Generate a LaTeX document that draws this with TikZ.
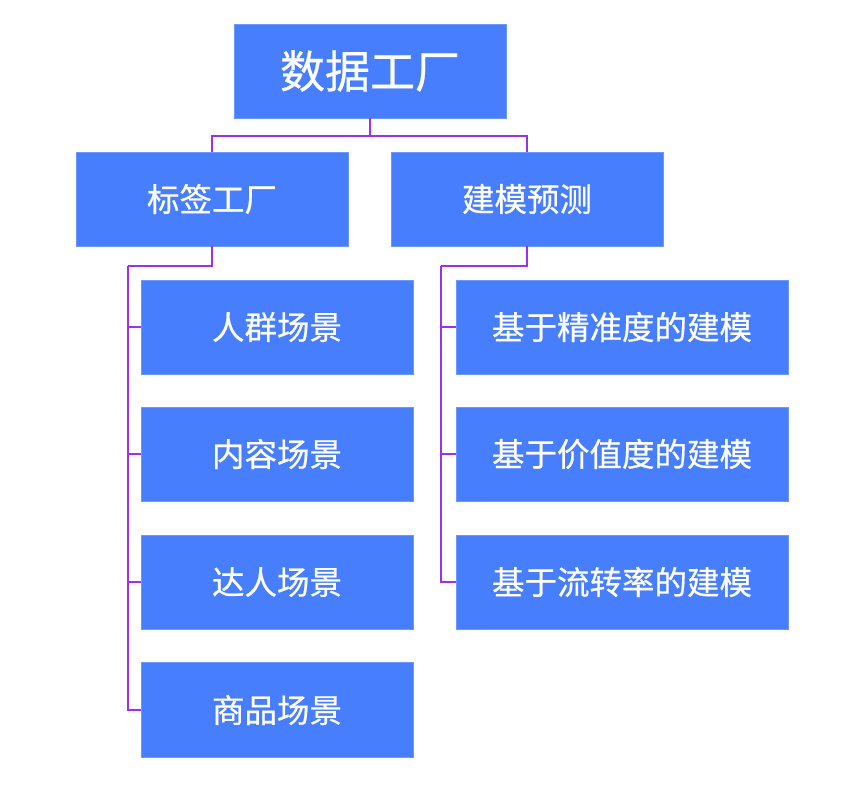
\documentclass[tikz,border=0pt]{standalone}
\usepackage{fontspec}
\newfontfamily\cjk[FakeBold=0.6]{Noto Sans CJK SC}
\definecolor{boxblue}{HTML}{467EFE}
\definecolor{linepurple}{HTML}{9B30F0}
\begin{document}
\begin{tikzpicture}[x=1pt,y=-1pt,
  box/.style={fill=boxblue,draw=boxblue!80!white,line width=0.6pt,text=white,inner sep=0pt,font=\cjk\fontsize{32.5}{38}\selectfont},
  link/.style={draw=linepurple,line width=1.1pt}]
\useasboundingbox (0,0) rectangle (848,793);
\node[box,minimum width=272,minimum height=94,font=\cjk\fontsize{45}{52}\selectfont] (root) at (370,71) {数据工厂};
\node[box,minimum width=272,minimum height=94] (tag) at (212,199) {标签工厂};
\node[box,minimum width=272,minimum height=94] (model) at (527,199) {建模预测};
\node[box,minimum width=272,minimum height=94] (l1) at (277,327) {人群场景};
\node[box,minimum width=272,minimum height=94] (l2) at (277,454) {内容场景};
\node[box,minimum width=272,minimum height=94] (l3) at (277,582) {达人场景};
\node[box,minimum width=272,minimum height=95] (l4) at (277,710) {商品场景};
\node[box,minimum width=332,minimum height=94] (r1) at (622,327) {基于精准度的建模};
\node[box,minimum width=332,minimum height=94] (r2) at (622,454) {基于价值度的建模};
\node[box,minimum width=332,minimum height=94] (r3) at (622,582) {基于流转率的建模};
\coordinate (rj) at (370,136);
\coordinate (lj) at (128,266);
\coordinate (mj) at (441,266);
\draw[link] (root.south) -- (rj);
\draw[link] (rj) -| (tag.north);
\draw[link] (rj) -| (model.north);
\draw[link] (tag.south) |- (lj);
\draw[link] (lj) |- (l1.west);
\draw[link] (lj) |- (l2.west);
\draw[link] (lj) |- (l3.west);
\draw[link] (lj) |- (l4.west);
\draw[link] (model.south) |- (mj);
\draw[link] (mj) |- (r1.west);
\draw[link] (mj) |- (r2.west);
\draw[link] (mj) |- (r3.west);
\end{tikzpicture}
\end{document}
